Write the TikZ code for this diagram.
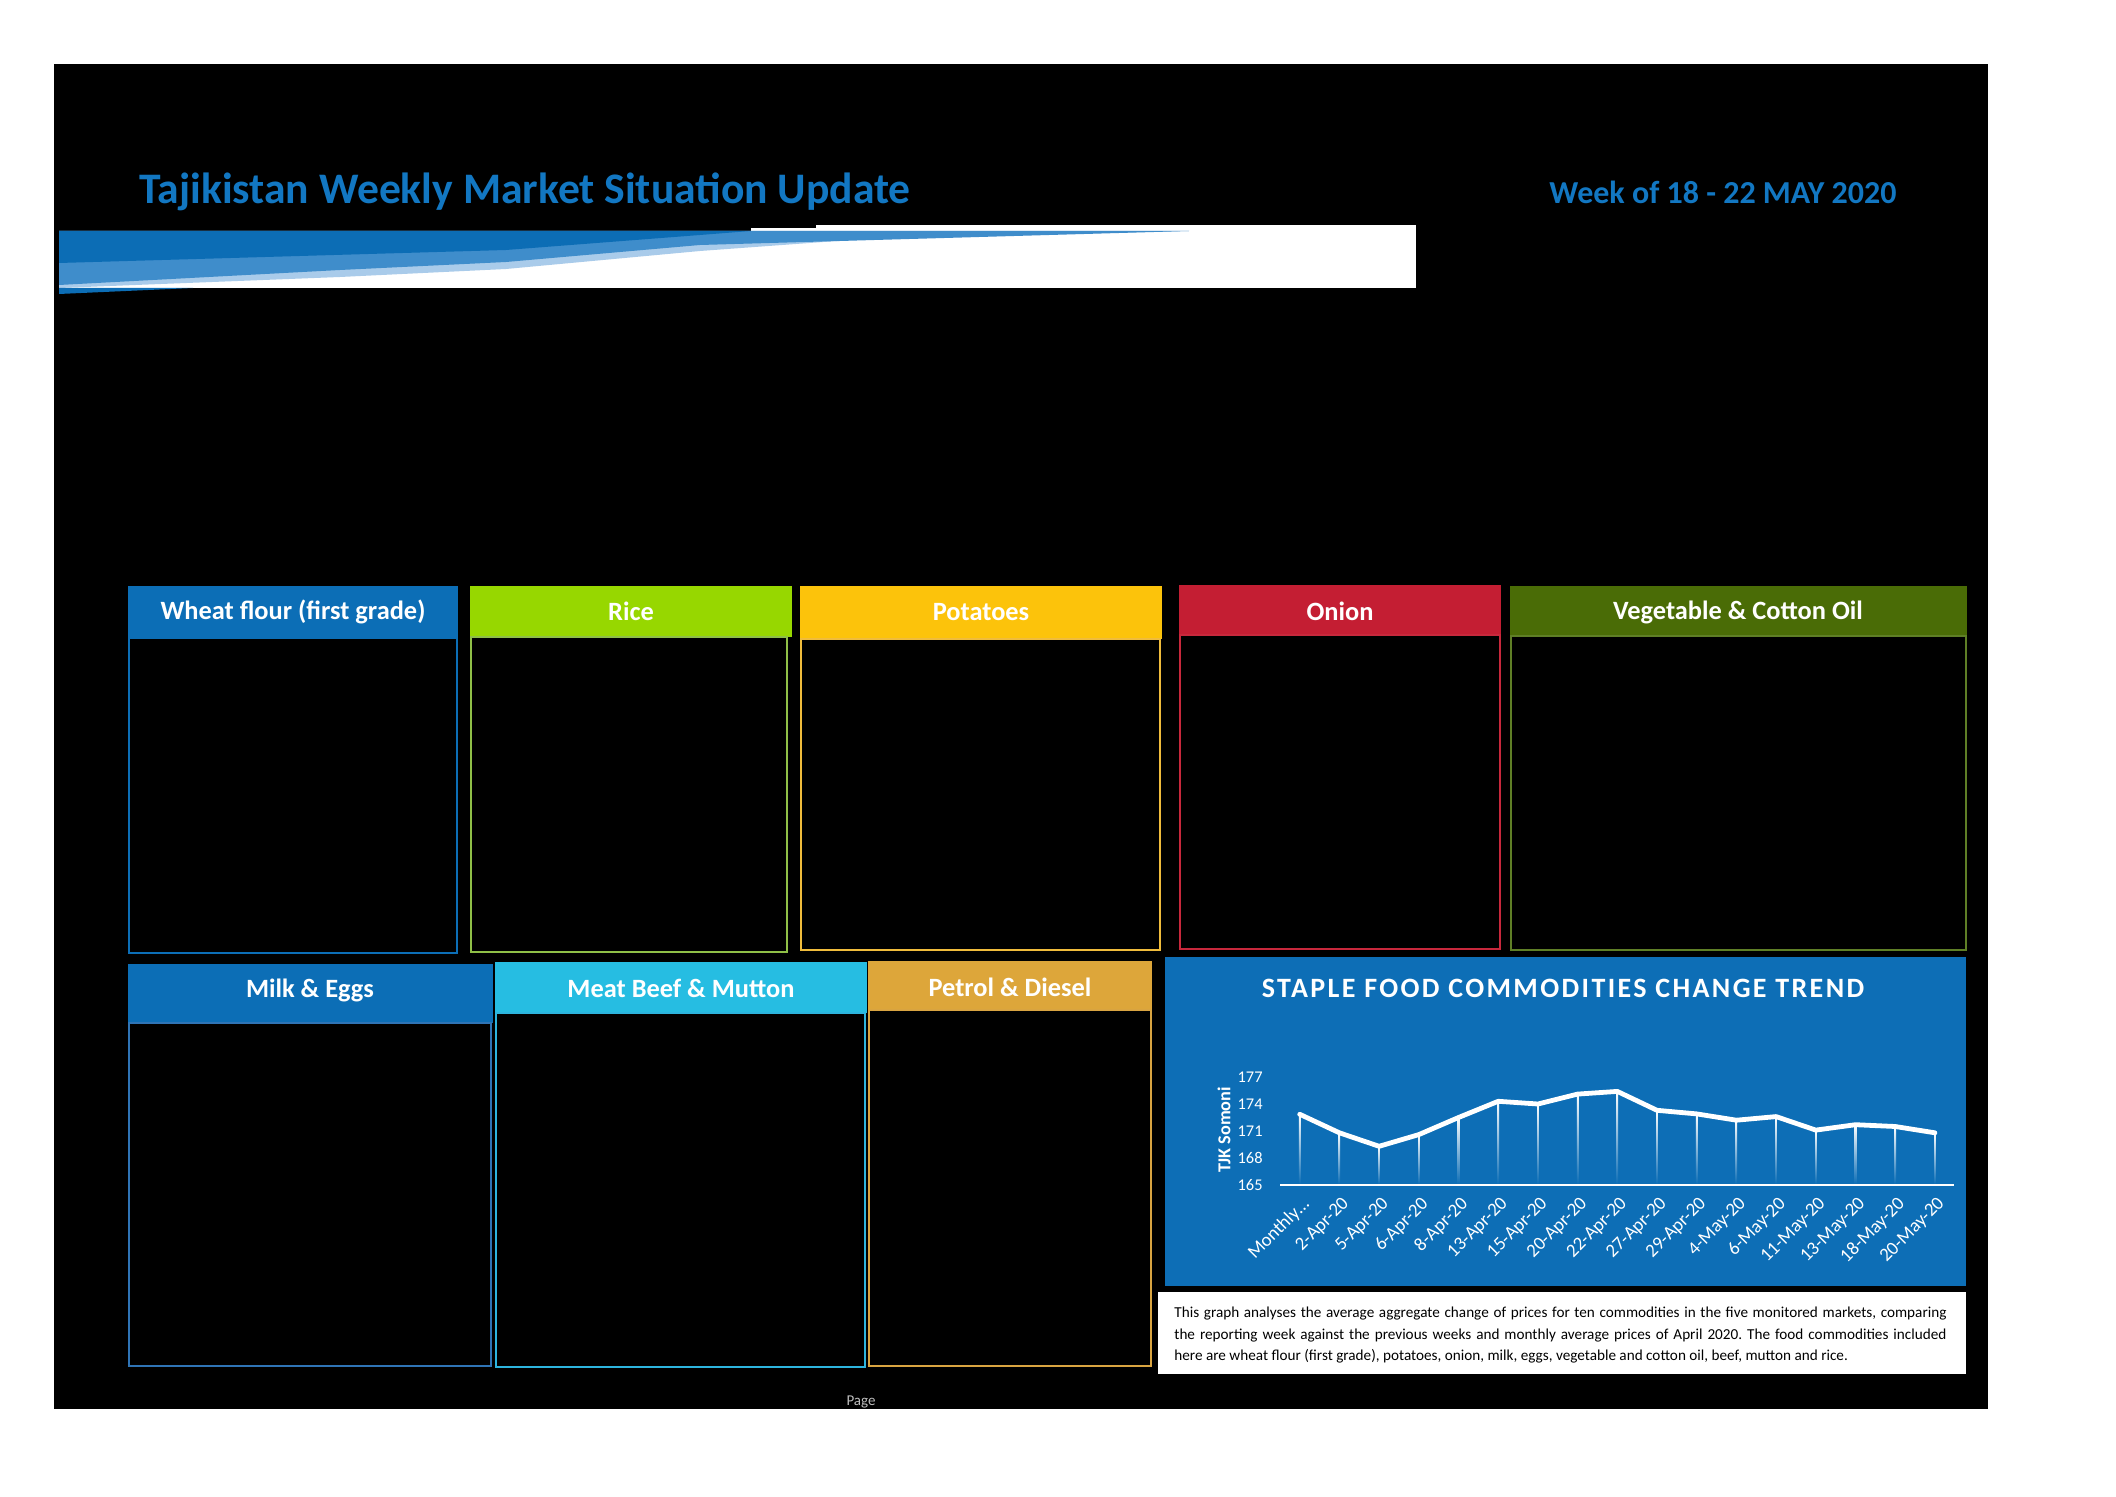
\documentclass[tikz,border=0pt]{standalone}
\usepackage{fontspec}
\setmainfont{Carlito}
\frenchspacing
\definecolor{titleblue}{HTML}{1277C2}
\definecolor{hdblue}{HTML}{0C6EB6}
\definecolor{banddark}{HTML}{0C6DB5}
\definecolor{bandmid}{HTML}{3F8DCB}
\definecolor{bandlight}{HTML}{A9CBEA}
\definecolor{ricefill}{HTML}{97D700}
\definecolor{ricestroke}{HTML}{8FBF47}
\definecolor{potfill}{HTML}{FCC30B}
\definecolor{potstroke}{HTML}{F0BC3C}
\definecolor{onionfill}{HTML}{C41E33}
\definecolor{onionstroke}{HTML}{C8283C}
\definecolor{vegfill}{HTML}{4A6C06}
\definecolor{vegstroke}{HTML}{5F7F26}
\definecolor{milkstroke}{HTML}{2F74B5}
\definecolor{meatfill}{HTML}{26BDE2}
\definecolor{meatstroke}{HTML}{2DB4DE}
\definecolor{petfill}{HTML}{DDA63A}
\definecolor{petstroke}{HTML}{D9A441}
\definecolor{chartblue}{HTML}{0D6EB6}
\definecolor{pagegray}{HTML}{BFBFBF}
\begin{document}
\begin{tikzpicture}[x=0.5pt,y=-0.5pt,
  hdtext/.style={text=white,inner sep=0pt,font=\bfseries\fontsize{13.2}{15}\selectfont},
  outline/.style={line width=1pt},
  axlabel/.style={text=white,inner sep=0pt,font=\fontsize{8.2}{10}\selectfont},
  datelabel/.style={text=white,inner sep=0pt,rotate=45,anchor=east,font=\fontsize{9.4}{11}\selectfont},
  bodytext/.style={anchor=base west,inner sep=0pt,font=\fontsize{7.6}{9}\selectfont}]
\useasboundingbox (0,0) rectangle (2116,1497);
\fill[white] (0,0) rectangle (2116,1497);
\fill[black] (54,64) rectangle (1988,1409);

% header band
\fill[white] (59,231) rectangle (1416,288);
\fill[white] (751,228) rectangle (1416,231);
\fill[white] (816,225) rectangle (1416,228);
\fill[bandlight] (59,231) -- (1189,231) -- (878,238) -- (700,251) -- (506,269) -- (340,277) -- (59,288) -- cycle;
\fill[bandmid] (59,231) -- (1189,231) -- (700,245) -- (506,262) -- (340,270) -- (59,285) -- cycle;
\fill[banddark] (59,231) -- (751,231) -- (700,235) -- (506,250) -- (59,263) -- cycle;
\fill[banddark] (59,288) -- (193,288) -- (59,294) -- cycle;

\node[anchor=base west,inner sep=0pt,text=titleblue,font=\bfseries\fontsize{21.8}{26}\selectfont] (title) at (139,204) {Tajikistan Weekly Market Situation Update};
\node[anchor=base west,inner sep=0pt,text=titleblue,font=\bfseries\fontsize{16}{19}\selectfont] (week) at (1549,204) {Week of 18 - 22 MAY 2020};

% top row
\fill[hdblue] (128,586) rectangle (458,638);
\draw[outline,hdblue] (129,638) rectangle (457,953);
\node[hdtext] (wheat) at (293,612) {Wheat flour (first grade)};

\fill[ricefill] (470,586) rectangle (792,637);
\draw[outline,ricestroke] (471,637) rectangle (787,952);
\node[hdtext] (rice) at (631,611) {Rice};

\fill[potfill] (800,586) rectangle (1162,639);
\draw[outline,potstroke] (801,639) rectangle (1160,950);
\node[hdtext] (potatoes) at (981,612) {Potatoes};

\fill[onionfill] (1179,585) rectangle (1501,635);
\draw[outline,onionstroke] (1180,635) rectangle (1500,949);
\node[hdtext] (onion) at (1340,611) {Onion};

\fill[vegfill] (1510,586) rectangle (1967,636);
\draw[outline,vegstroke] (1511,636) rectangle (1966,950);
\node[hdtext] (veg) at (1738,612) {Vegetable \& Cotton Oil};

% bottom row
\fill[hdblue] (128,964) rectangle (493,1023);
\draw[outline,milkstroke] (129,1023) rectangle (491,1366);
\node[hdtext] (milk) at (310,990) {Milk \& Eggs};

\fill[meatfill] (495,962) rectangle (867,1013);
\draw[outline,meatstroke] (496,1013) rectangle (865,1367);
\node[hdtext] (meat) at (681,988) {Meat Beef \& Mutton};

\fill[petfill] (868,961) rectangle (1152,1010);
\draw[outline,petstroke] (869,1010) rectangle (1151,1366);
\node[hdtext] (petrol) at (1010,987) {Petrol \& Diesel};

% chart
\fill[chartblue] (1165,957) rectangle (1966,1286);
\node[anchor=base,inner sep=0pt,text=white,font=\bfseries\fontsize{14}{16}\selectfont\addfontfeature{LetterSpace=8.5}] (ctitle) at (1563,997) {STAPLE FOOD COMMODITIES CHANGE TREND};
\foreach \t [count=\k from 0] in {165,168,171,174,177}
  \node[axlabel,anchor=east] (yl\t) at (1263,{1185-27*\k}) {\t};
\node[text=white,inner sep=0pt,rotate=90,font=\bfseries\fontsize{9.1}{11}\selectfont] (yaxis) at (1224,1130) {TJK Somoni};
\foreach \v [count=\i from 0] in {172.86,170.8,169.3,170.6,172.5,174.3,174.0,175.1,175.4,173.3,172.9,172.2,172.6,171.1,171.7,171.5,170.8}{
  \pgfmathsetmacro\xx{1299.7+39.7*\i}
  \pgfmathsetmacro\yy{1185-9*(\v-165)}
  \shade[top color=white,bottom color=chartblue] (\xx-0.8,\yy) rectangle (\xx+0.8,1184);
  \coordinate (p\i) at (\xx,\yy);
}
\draw[white,line width=1.2pt] (1280,1185) coordinate (ax0) -- (1954,1185) coordinate (ax1);
\draw[white,line width=2.4pt,line join=round,line cap=round] (p0) \foreach \i in {1,...,16}{ -- (p\i)};
\foreach \l [count=\i from 0] in {Monthly…,2-Apr-20,5-Apr-20,6-Apr-20,8-Apr-20,13-Apr-20,15-Apr-20,20-Apr-20,22-Apr-20,27-Apr-20,29-Apr-20,4-May-20,6-May-20,11-May-20,13-May-20,18-May-20,20-May-20}
  \node[datelabel] (xl\i) at ({1299.7+39.7*\i+7},1201) {\l};

% caption box
\fill[white] (1158,1292) rectangle (1966,1374);
\node[bodytext] (cap1) at (1174,1317) {\makebox[386pt][s]{This graph analyses the average aggregate change of prices for ten commodities in the five monitored markets, comparing}};
\node[bodytext] (cap2) at (1174,1339) {\makebox[386pt][s]{the reporting week against the previous weeks and monthly average prices of April 2020. The food commodities included}};
\node[bodytext] (cap3) at (1174,1360) {here are wheat flour (first grade), potatoes, onion, milk, eggs, vegetable and cotton oil, beef, mutton and rice.};

\node[text=pagegray,inner sep=0pt,font=\fontsize{7.5}{9}\selectfont] (page) at (861,1402) {Page};
\end{tikzpicture}
\end{document}
